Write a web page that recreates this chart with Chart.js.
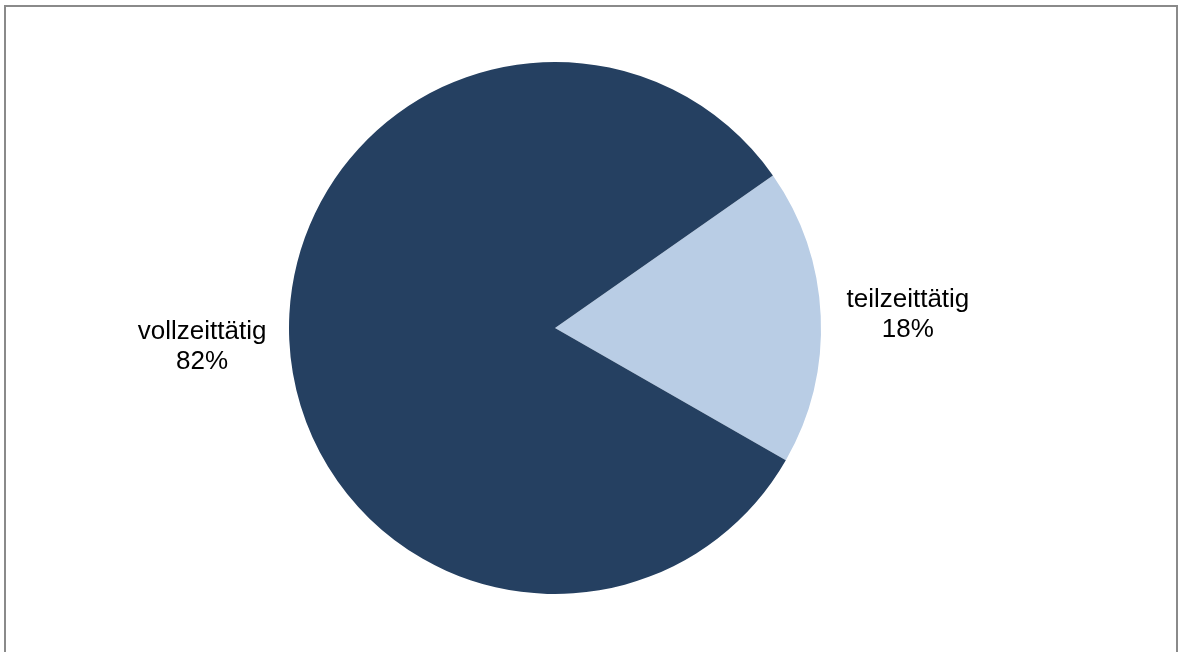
<!DOCTYPE html>
<html>
<head>
<meta charset="utf-8">
<script src="https://cdn.jsdelivr.net/npm/chart.js@4/dist/chart.umd.min.js"></script>
<style>
  html, body { margin: 0; padding: 0; background: #ffffff; }
  #wrap { position: relative; width: 1179px; height: 652px; }
</style>
</head>
<body>
<div id="wrap"><canvas id="c" width="1179" height="652"></canvas></div>
<script>
const categories = ["teilzeittätig", "vollzeittätig"];
const shares = [18, 82];
const percentLabels = ["18%", "82%"];
const sliceColors = ["#B9CDE5", "#254061"];

const frame = {
  id: 'frame',
  beforeDraw(chart) {
    const ctx = chart.ctx;
    ctx.save();
    ctx.strokeStyle = '#8A8A8A';
    ctx.lineWidth = 2;
    ctx.beginPath();
    ctx.moveTo(5, 660);
    ctx.lineTo(5, 6);
    ctx.lineTo(1177, 6);
    ctx.lineTo(1177, 660);
    ctx.stroke();
    ctx.restore();
  }
};

const outsideLabels = {
  id: 'outsideLabels',
  afterDatasetsDraw(chart) {
    const ctx = chart.ctx;
    const meta = chart.getDatasetMeta(0);
    ctx.save();
    ctx.fillStyle = '#000000';
    ctx.font = '26px "Liberation Sans", Arial, sans-serif';
    ctx.textAlign = 'center';
    ctx.textBaseline = 'middle';
    meta.data.forEach((arc, i) => {
      const p = arc.getProps(['x', 'y', 'startAngle', 'endAngle', 'outerRadius'], true);
      const mid = (p.startAngle + p.endAngle) / 2;
      const r = p.outerRadius * 1.328;
      const cx = p.x + Math.cos(mid) * r;
      const cy = p.y + Math.sin(mid) * r;
      ctx.fillText(categories[i], cx, cy - 12);
      ctx.fillText(percentLabels[i], cx, cy + 18);
    });
    ctx.restore();
  }
};

new Chart(document.getElementById('c'), {
  type: 'pie',
  data: {
    labels: categories,
    datasets: [{
      data: shares,
      backgroundColor: sliceColors,
      borderWidth: 0,
      hoverOffset: 0
    }]
  },
  options: {
    responsive: false,
    animation: false,
    rotation: 55,
    layout: { padding: { left: 0, right: 69, top: 62, bottom: 58 } },
    plugins: {
      legend: { display: false },
      tooltip: { enabled: false },
      title: { display: false }
    }
  },
  plugins: [frame, outsideLabels]
});
</script>
</body>
</html>
